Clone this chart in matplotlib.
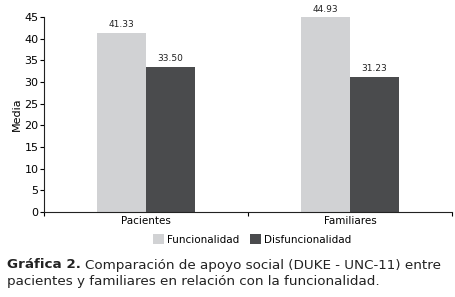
import matplotlib.pyplot as plt
import numpy as np

categorias = ['Pacientes', 'Familiares']
funcionalidad = [41.33, 44.93]
disfuncionalidad = [33.50, 31.23]
series = ['Funcionalidad', 'Disfuncionalidad']

fig = plt.figure(figsize=(4.55, 2.97), dpi=100)
ax = fig.add_axes([44/455, 85/297, 408/455, 195/297])

x = np.arange(len(categorias)) + 0.5
w = 0.24
b1 = ax.bar(x - w/2, funcionalidad, w, color='#d1d2d4', label=series[0])
b2 = ax.bar(x + w/2, disfuncionalidad, w, color='#4a4b4d', label=series[1])

for bars, vals in [(b1, funcionalidad), (b2, disfuncionalidad)]:
    for r, v in zip(bars, vals):
        ax.text(r.get_x() + r.get_width()/2, v + 0.8, '%.2f' % v,
                ha='center', va='bottom', fontsize=6.5, color='#222222', clip_on=False)

ax.set_xlim(0, 2)
ax.set_ylim(0, 45)
ax.set_yticks(range(0, 46, 5))
ax.set_xticks([0, 1, 2])
ax.set_xticklabels([])
ax.set_xticks(x, minor=True)
ax.set_xticklabels(categorias, minor=True)
ax.tick_params(axis='x', which='minor', length=0, labelsize=7.5, pad=3)
ax.tick_params(axis='x', which='major', length=3, width=0.8)
ax.tick_params(axis='y', length=3, width=0.8, labelsize=8, pad=1)
ax.set_ylabel('Media', fontsize=8, labelpad=2)
for s in ['top', 'right']:
    ax.spines[s].set_visible(False)
for s in ['left', 'bottom']:
    ax.spines[s].set_linewidth(0.8)
    ax.spines[s].set_color('#222222')

ax.legend(loc='upper center', bbox_to_anchor=(0.51, -0.065), ncol=2, frameon=False,
          fontsize=7.5, handlelength=1.1, handleheight=1.1, handletextpad=0.3,
          columnspacing=1.0)

# caption: bold part then regular text right after it
t1 = fig.text(7/455, 1 - 265/297, 'Gráfica 2.', fontsize=9.7, fontweight='bold',
              va='center', ha='left', color='#222222')
fig.canvas.draw()
bb = t1.get_window_extent()
fig.text(bb.x1/455 + 4/455, 1 - 265/297, 'Comparación de apoyo social (DUKE - UNC-11) entre',
         fontsize=9.7, va='center', ha='left', color='#222222')
fig.text(7/455, 1 - 282/297, 'pacientes y familiares en relación con la funcionalidad.',
         fontsize=9.7, va='center', ha='left', color='#222222')

fig.savefig('out.png', dpi=100)
